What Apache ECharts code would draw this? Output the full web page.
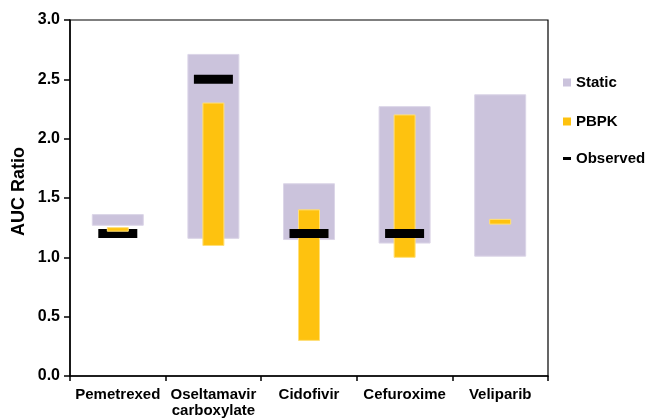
<!DOCTYPE html>
<html>
<head>
<meta charset="utf-8">
<script src="https://cdn.jsdelivr.net/npm/echarts@6/dist/echarts.min.js"></script>
<style>html,body{margin:0;padding:0;background:#fff}#c{width:649px;height:419px}</style>
</head>
<body>
<div id="c"></div>
<script>
const categories = ['Pemetrexed', 'Oseltamavir\ncarboxylate', 'Cidofivir', 'Cefuroxime', 'Veliparib'];
const staticLow  = [1.27, 1.16, 1.15, 1.12, 1.01];
const staticHigh = [1.36, 2.71, 1.62, 2.27, 2.37];
const pbpkLow    = [1.22, 1.10, 0.30, 1.00, 1.28];
const pbpkHigh   = [1.25, 2.30, 1.40, 2.20, 1.32];
const observed   = [1.20, 2.50, 1.20, 1.20, null];
const yTicks = [0.0, 0.5, 1.0, 1.5, 2.0, 2.5, 3.0];

const FONT = 'Liberation Sans, Arial, sans-serif';

function rangeRender(width, stroke) {
  return function (params, api) {
    const x = api.value(0);
    const lo = api.coord([x, api.value(1)]);
    const hi = api.coord([x, api.value(2)]);
    const h = lo[1] - hi[1];
    return {
      type: 'rect',
      z2: h < 10 ? 10 : 1,
      shape: { x: lo[0] - width / 2, y: hi[1], width: width, height: h },
      style: { fill: api.visual('color'), stroke: stroke, lineWidth: 1 }
    };
  };
}
function markRender(width, thick) {
  return function (params, api) {
    const p = api.coord([api.value(0), api.value(1)]);
    return {
      type: 'rect',
      z2: 5,
      shape: { x: p[0] - width / 2, y: p[1] - thick / 2, width: width, height: thick },
      style: { fill: api.visual('color') }
    };
  };
}

const staticData = categories.map((c, i) => [i, staticLow[i], staticHigh[i]]);
const pbpkData = categories.map((c, i) => [i, pbpkLow[i], pbpkHigh[i]]);
const obsData = [];
observed.forEach((v, i) => { if (v !== null) obsData.push([i, v]); });

const legendText = { color: '#000', fontWeight: 'bold', fontSize: 15, fontFamily: FONT };

const chart = echarts.init(document.getElementById('c'));
chart.setOption({
  animation: false,
  grid: { left: 70, right: 101, top: 20, bottom: 40, show: true, borderColor: '#000', borderWidth: 1.2, backgroundColor: 'transparent' },
  legend: [
    { data: [{ name: 'Static', icon: 'rect' }], left: 563, top: 75, padding: 0, itemWidth: 8, itemHeight: 8, textStyle: legendText, selectedMode: false },
    { data: [{ name: 'PBPK', icon: 'rect' }], left: 563, top: 114, padding: 0, itemWidth: 8, itemHeight: 8, textStyle: legendText, selectedMode: false },
    { data: [{ name: 'Observed', icon: 'rect' }], left: 563, top: 151, padding: 0, itemWidth: 8, itemHeight: 3, textStyle: legendText, selectedMode: false }
  ],
  xAxis: {
    type: 'category',
    data: categories,
    boundaryGap: true,
    axisLine: { lineStyle: { color: '#000', width: 1.5 } },
    axisTick: { show: true, length: 5, lineStyle: { color: '#000', width: 1.5 } },
    axisLabel: { color: '#000', fontWeight: 'bold', fontSize: 15, fontFamily: FONT, margin: 11, lineHeight: 16, interval: 0 }
  },
  yAxis: {
    type: 'value',
    min: 0, max: 3, interval: 0.5,
    splitLine: { show: false },
    axisLine: { show: true, lineStyle: { color: '#000', width: 1.5 } },
    axisTick: { show: true, length: 6, lineStyle: { color: '#000', width: 1.5 } },
    axisLabel: { color: '#000', fontWeight: 'bold', fontSize: 16, fontFamily: FONT, margin: 10,
      formatter: v => { const t = yTicks.find(x => Math.abs(x - v) < 1e-9); return (t !== undefined ? t : v).toFixed(1); } }
  },
  graphic: [{
    type: 'text', left: 10, top: 147, rotation: Math.PI / 2,
    style: { text: 'AUC Ratio', fill: '#000', font: 'bold 18px ' + FONT }
  }],
  series: [
    { name: 'Static', type: 'custom', z: 2, itemStyle: { color: '#cbc3dc' }, renderItem: rangeRender(51, '#dcd6e8'), data: staticData, encode: { x: 0, y: [1, 2] } },
    { name: 'PBPK', type: 'custom', z: 2, itemStyle: { color: '#fec20f' }, renderItem: rangeRender(21, '#ffe07a'), data: pbpkData, encode: { x: 0, y: [1, 2] } },
    { name: 'Observed', type: 'custom', z: 2, itemStyle: { color: '#000' }, renderItem: markRender(39, 9), data: obsData, encode: { x: 0, y: 1 } }
  ]
});
</script>
</body>
</html>
